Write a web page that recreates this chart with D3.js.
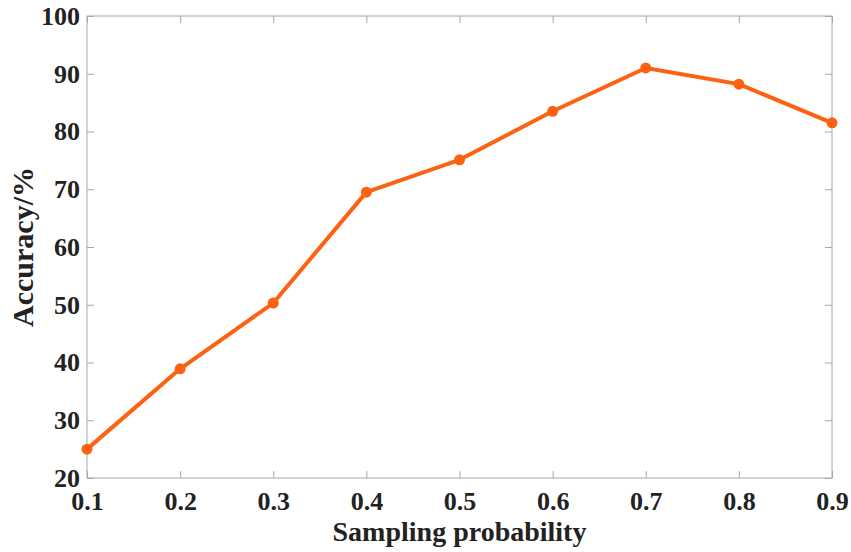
<!DOCTYPE html>
<html>
<head>
<meta charset="utf-8">
<script src="https://cdn.jsdelivr.net/npm/d3@7"></script>
<style>
  body { margin: 0; background: #fff; }
  svg { display: block; }
  .tick text { font-family: "Liberation Serif", "Times New Roman", serif; font-weight: bold; fill: #222; }
  .axis-label { font-family: "Liberation Serif", "Times New Roman", serif; font-weight: bold; fill: #222; }
</style>
</head>
<body>
<svg id="chart" width="851" height="552"></svg>
<script>
// sampling probability vs accuracy
const probs = [0.1, 0.2, 0.3, 0.4, 0.5, 0.6, 0.7, 0.8, 0.9];
const accuracy = [25.0, 38.9, 50.3, 69.5, 75.1, 83.5, 91.0, 88.2, 81.5];
const yTicks = [20, 30, 40, 50, 60, 70, 80, 90, 100];

const W = 851, H = 552;
const margin = { top: 16, right: 19, bottom: 74, left: 87 };
const iw = W - margin.left - margin.right;
const ih = H - margin.top - margin.bottom;

const svg = d3.select('#chart');
const g = svg.append('g').attr('transform', `translate(${margin.left},${margin.top})`);

const x = d3.scaleLinear().domain([0.1, 0.9]).range([0, iw]);
const y = d3.scaleLinear().domain([20, 100]).range([ih, 0]);

const AXIS = '#a8a8a8';

// box
g.append('rect')
  .attr('width', iw).attr('height', ih)
  .attr('fill', 'none').attr('stroke', AXIS).attr('stroke-width', 1);

function styleAxis(sel) {
  sel.select('.domain').remove();
  sel.selectAll('.tick line').attr('stroke', AXIS);
}

// bottom + top ticks (inward)
g.append('g').attr('transform', `translate(0,${ih})`)
  .call(d3.axisBottom(x).tickValues(probs).tickFormat(d3.format('.1f')).tickSize(-7).tickPadding(14))
  .call(styleAxis)
  .selectAll('text').style('font-size', '26px');

g.append('g')
  .call(d3.axisTop(x).tickValues(probs).tickSize(-7).tickFormat(''))
  .call(styleAxis);

g.append('g')
  .call(d3.axisLeft(y).tickValues(yTicks).tickSize(-7).tickPadding(7))
  .call(styleAxis)
  .selectAll('text').style('font-size', '26px');

g.append('g').attr('transform', `translate(${iw},0)`)
  .call(d3.axisRight(y).tickValues(yTicks).tickSize(-7).tickFormat(''))
  .call(styleAxis);

// line + markers
const data = probs.map((p, i) => ({ p, a: accuracy[i] }));
const ORANGE = '#fd6212';

g.append('path')
  .datum(data)
  .attr('fill', 'none')
  .attr('stroke', ORANGE)
  .attr('stroke-width', 4)
  .attr('stroke-linejoin', 'round')
  .attr('d', d3.line().x(d => x(d.p)).y(d => y(d.a)));

g.append('g').selectAll('circle')
  .data(data)
  .join('circle')
  .attr('cx', d => x(d.p))
  .attr('cy', d => y(d.a))
  .attr('r', 5.5)
  .attr('fill', ORANGE);

// axis labels
svg.append('text')
  .attr('class', 'axis-label')
  .attr('x', margin.left + iw / 2)
  .attr('y', 541)
  .attr('text-anchor', 'middle')
  .style('font-size', '28px')
  .text('Sampling probability');

svg.append('text')
  .attr('class', 'axis-label')
  .attr('transform', `translate(33,${margin.top + ih / 2}) rotate(-90)`)
  .attr('text-anchor', 'middle')
  .style('font-size', '30px')
  .text('Accuracy/%');
</script>
</body>
</html>
